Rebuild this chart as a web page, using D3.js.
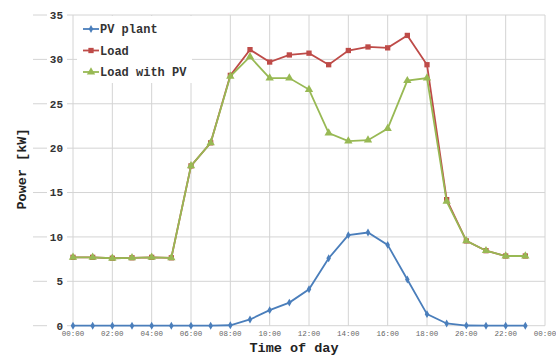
<!DOCTYPE html>
<html><head><meta charset="utf-8">
<script src="https://cdn.jsdelivr.net/npm/d3@7"></script>
<style>body{margin:0;background:#fff}svg{display:block}</style>
</head><body>
<svg id="c" width="556" height="356"></svg>
<script>
const hours = d3.range(0, 24);
const xTickHours = [0, 2, 4, 6, 8, 10, 12, 14, 16, 18, 20, 22, 24];
const yTicks = [0, 5, 10, 15, 20, 25, 30, 35];
const pvPlant = [0,0,0,0,0,0,0,0,0.05,0.7,1.75,2.6,4.1,7.6,10.2,10.5,9.1,5.2,1.3,0.25,0.02,0,0,0];
const load = [7.7,7.7,7.6,7.65,7.7,7.65,18.0,20.6,28.2,31.1,29.7,30.5,30.7,29.4,31.0,31.4,31.3,32.7,29.4,14.2,9.55,8.45,7.85,7.85];
const loadWithPV = [7.7,7.7,7.6,7.65,7.7,7.65,18.0,20.6,28.1,30.3,27.9,27.9,26.6,21.7,20.8,20.9,22.2,27.6,27.9,14.0,9.55,8.45,7.85,7.85];
const seriesNames = ["PV plant", "Load", "Load with PV"];
const seriesColors = ["#4a7ebb", "#be4b48", "#98b954"];
const seriesData = [pvPlant, load, loadWithPV];
const seriesSymbols = [d3.symbolDiamond, d3.symbolSquare, d3.symbolTriangle];
const symbolSizes = [18, 28, 30];

const svg = d3.select("#c");
const L = 73, R = 545, T = 15, B = 325.7;
const x = d3.scaleLinear().domain([0, 24]).range([L, R]);
const y = d3.scaleLinear().domain([0, 35]).range([B, T]);
const grid = "#d4d4d4";

// horizontal gridlines (extend left behind labels)
svg.append("g").selectAll("line").data(yTicks).join("line")
  .attr("x1", 33).attr("x2", R).attr("y1", d => y(d)).attr("y2", d => y(d))
  .attr("stroke", grid).attr("stroke-width", 1);
// vertical gridlines
svg.append("g").selectAll("line").data(xTickHours).join("line")
  .attr("x1", d => x(d)).attr("x2", d => x(d)).attr("y1", T).attr("y2", B)
  .attr("stroke", grid).attr("stroke-width", 1);

// y tick labels with white background
const yl = svg.append("g").selectAll("g").data(yTicks).join("g")
  .attr("transform", d => `translate(63,${y(d)})`);
yl.append("rect").attr("x", -16).attr("y", -7).attr("width", 20).attr("height", 14).attr("fill", "#fff");
yl.append("text").text(d => d).attr("text-anchor", "end").attr("dy", "0.35em")
  .attr("font-family", "Liberation Mono, Courier New, monospace").attr("font-weight", "bold")
  .attr("font-size", 11).attr("fill", "#333");

// x tick labels
svg.append("g").selectAll("text").data(xTickHours).join("text")
  .text(d => String(d % 24).padStart(2, "0") + ":00")
  .attr("x", d => x(d)).attr("y", 336).attr("text-anchor", "middle")
  .attr("font-family", "Liberation Mono, Courier New, monospace")
  .attr("font-size", 7.5).attr("fill", "#666");

// axis titles
svg.append("text").text("Time of day").attr("x", 294).attr("y", 352).attr("text-anchor", "middle")
  .attr("font-family", "Liberation Mono, Courier New, monospace").attr("font-weight", "bold")
  .attr("font-size", 13.5).attr("fill", "#222");
svg.append("text").text("Power [kW]").attr("transform", "translate(26,169) rotate(-90)")
  .attr("text-anchor", "middle")
  .attr("font-family", "Liberation Mono, Courier New, monospace").attr("font-weight", "bold")
  .attr("font-size", 13.5).attr("fill", "#222");

// series
const line = d3.line().x((d, i) => x(hours[i])).y(d => y(d));
seriesData.forEach((data, k) => {
  const g = svg.append("g");
  g.append("path").datum(data).attr("d", line).attr("fill", "none")
    .attr("stroke", seriesColors[k]).attr("stroke-width", 1.8);
  g.selectAll("path.m").data(data).join("path").attr("class", "m")
    .attr("d", d3.symbol().type(seriesSymbols[k]).size(symbolSizes[k]))
    .attr("transform", (d, i) => `translate(${x(hours[i])},${y(d)})`)
    .attr("fill", seriesColors[k]);
});

// legend
const lg = svg.append("g");
lg.append("rect").attr("x", 77).attr("y", 16).attr("width", 115).attr("height", 67).attr("fill", "#fff");
seriesNames.forEach((name, k) => {
  const cy = 29 + k * 21.5;
  lg.append("line").attr("x1", 83).attr("x2", 99).attr("y1", cy).attr("y2", cy)
    .attr("stroke", seriesColors[k]).attr("stroke-width", 1.8);
  lg.append("path").attr("d", d3.symbol().type(seriesSymbols[k]).size(symbolSizes[k]))
    .attr("transform", `translate(91,${cy})`).attr("fill", seriesColors[k]);
  lg.append("text").text(name).attr("x", 100).attr("y", cy).attr("dy", "0.35em")
    .attr("font-family", "Liberation Mono, Courier New, monospace").attr("font-weight", "bold")
    .attr("font-size", 12).attr("fill", "#333");
});
</script>
</body></html>
